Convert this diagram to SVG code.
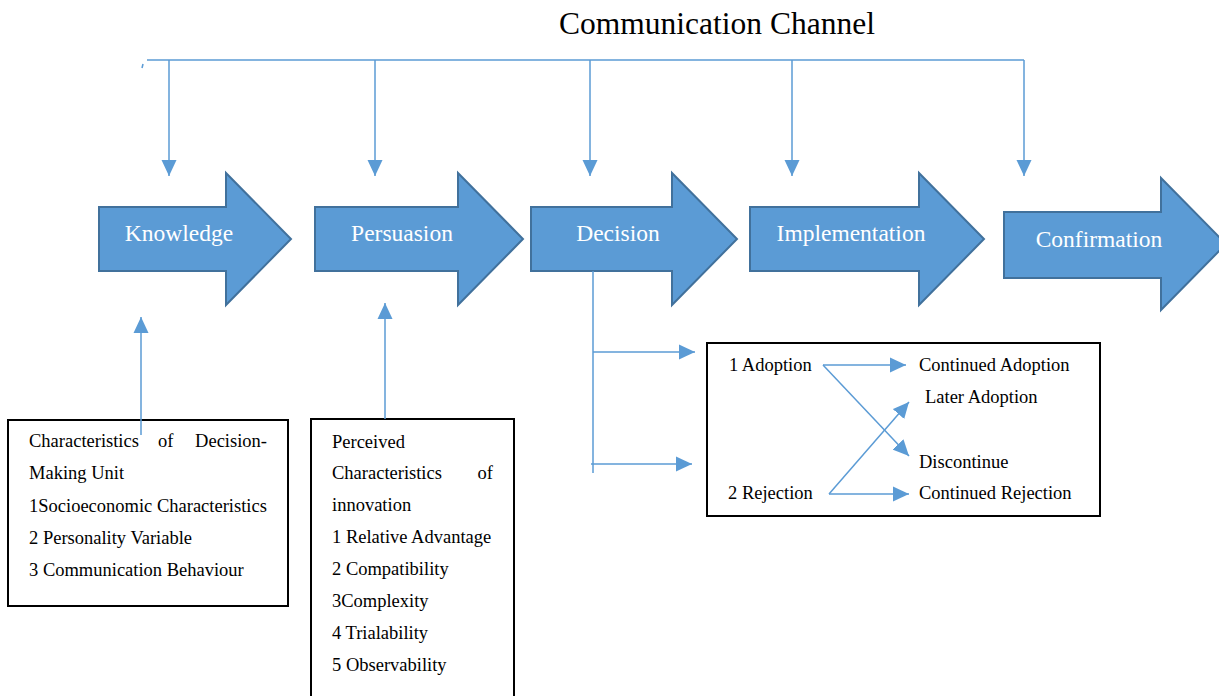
<svg xmlns="http://www.w3.org/2000/svg" width="1219" height="696" viewBox="0 0 1219 696">
<defs>
<style>
.stage{fill:#5B9BD5;stroke:#41719C;stroke-width:2;stroke-linejoin:miter}
.stxt{fill:#ffffff;font-family:'Liberation Serif','DejaVu Serif',serif;font-size:23.5px;text-anchor:middle}
.txt{fill:#000000;font-family:'Liberation Serif','DejaVu Serif',serif;font-size:18.5px}
.title{fill:#000000;font-family:'Liberation Serif','DejaVu Serif',serif;font-size:31.5px;text-anchor:middle}
.box{fill:none;stroke:#000000;stroke-width:2}
.conn{fill:none;stroke:#5B9BD5;stroke-width:1.5}
.arr{marker-end:url(#ah)}
</style>
<marker id="ah" markerUnits="userSpaceOnUse" markerWidth="16" markerHeight="16" viewBox="0 0 16 15" refX="16" refY="7.5" orient="auto">
<path d="M0,0 L16,7.5 L0,15 Z" fill="#5B9BD5"/>
</marker>
</defs>
<rect width="1219" height="696" fill="#ffffff"/>

<text class="title" x="717" y="34">Communication Channel</text>

<g id="knowledge">
<polygon class="stage" points="99,207 226,207 226,173 291,239 226,305 226,271 99,271"/>
<text class="stxt" x="179" y="241">Knowledge</text>
</g>
<g id="persuasion">
<polygon class="stage" points="315,207 458,207 458,173 523,239 458,305 458,271 315,271"/>
<text class="stxt" x="402" y="241">Persuasion</text>
</g>
<g id="decision">
<polygon class="stage" points="531,207 672,207 672,173 737,239 672,305 672,271 531,271"/>
<text class="stxt" x="618" y="241">Decision</text>
</g>
<g id="implementation">
<polygon class="stage" points="750,207 919,207 919,173 984,239 919,305 919,271 750,271"/>
<text class="stxt" x="851" y="241">Implementation</text>
</g>
<g id="confirmation">
<polygon class="stage" points="1004,212 1161,212 1161,178 1226,244 1161,310 1161,278 1004,278"/>
<text class="stxt" x="1099" y="247">Confirmation</text>
</g>

<g id="decision-unit">
<rect class="box" x="8" y="420" width="280" height="186"/>
<text class="txt" x="29" y="447">Characteristics</text>
<text class="txt" x="158" y="447">of</text>
<text class="txt" x="267" y="447" text-anchor="end">Decision-</text>
<text class="txt" x="29" y="479">Making Unit</text>
<text class="txt" x="29" y="512">1Socioeconomic Characteristics</text>
<text class="txt" x="29" y="544">2 Personality Variable</text>
<text class="txt" x="29" y="576">3 Communication Behaviour</text>
</g>

<g id="innovation">
<rect class="box" x="311" y="419" width="203" height="300"/>
<text class="txt" x="332" y="448">Perceived</text>
<text class="txt" x="332" y="479">Characteristics</text>
<text class="txt" x="493" y="479" text-anchor="end">of</text>
<text class="txt" x="332" y="511">innovation</text>
<text class="txt" x="332" y="543">1 Relative Advantage</text>
<text class="txt" x="332" y="575">2 Compatibility</text>
<text class="txt" x="332" y="607">3Complexity</text>
<text class="txt" x="332" y="639">4 Trialability</text>
<text class="txt" x="332" y="671">5 Observability</text>
</g>

<g id="outcomes">
<rect class="box" x="707" y="343" width="393" height="173"/>
<text class="txt" x="729" y="371">1 Adoption</text>
<text class="txt" x="919" y="371">Continued Adoption</text>
<text class="txt" x="925" y="403">Later Adoption</text>
<text class="txt" x="919" y="468">Discontinue</text>
<text class="txt" x="728" y="499">2 Rejection</text>
<text class="txt" x="919" y="499">Continued Rejection</text>
</g>

<g id="connectors">
<path class="conn" d="M147,60 L1024,60"/>
<path class="conn" d="M143,64 L142,68" stroke-width="1"/>
<path class="conn arr" d="M169,60 L169,176"/>
<path class="conn arr" d="M375,60 L375,176"/>
<path class="conn arr" d="M590,60 L590,176"/>
<path class="conn arr" d="M792,60 L792,176"/>
<path class="conn arr" d="M1024,60 L1024,176"/>
<path class="conn arr" d="M141,435 L141,317"/>
<path class="conn arr" d="M385,419 L385,303"/>
<path class="conn" d="M593,271 L593,473"/>
<path class="conn arr" d="M593,352 L695,352"/>
<path class="conn arr" d="M591,464 L692,464"/>
<path class="conn arr" d="M823,365 L906,365"/>
<path class="conn arr" d="M823,365 L909,456"/>
<path class="conn arr" d="M829,494 L909,402"/>
<path class="conn arr" d="M829,494 L909,494"/>
</g>
</svg>
